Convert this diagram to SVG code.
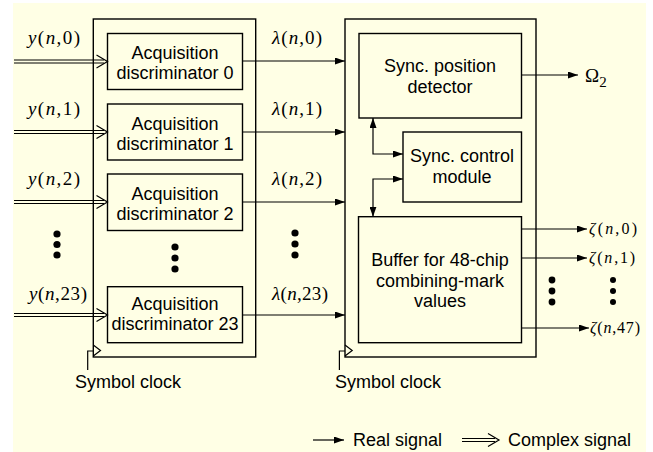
<svg xmlns="http://www.w3.org/2000/svg" xmlns:xlink="http://www.w3.org/1999/xlink" width="653" height="452" viewBox="0 0 653 452">
<style>
.box{fill:none;stroke:#000;stroke-width:1.4}
.ln{fill:none;stroke:#000;stroke-width:1.2}
.dbl{fill:none;stroke:#000;stroke-width:1.1}
.t{font-family:"Liberation Sans",Arial,sans-serif;font-size:18px;fill:#000}
.tc{text-anchor:middle}
.m{font-family:"Liberation Serif","Times New Roman",serif;font-size:19px;fill:#000}
.z{font-size:16px}
.i{font-style:italic}
.dot{fill:#000}
</style>
<defs>
<marker id="ah" viewBox="0 0 10 7" refX="10" refY="3.5" markerWidth="10" markerHeight="7" markerUnits="userSpaceOnUse" orient="auto">
<path d="M0,0 L10,3.5 L0,7 z" fill="#000"/>
</marker>
<marker id="ahs" viewBox="0 0 10 7" refX="10" refY="3.5" markerWidth="10" markerHeight="7" markerUnits="userSpaceOnUse" orient="auto-start-reverse">
<path d="M0,0 L10,3.5 L0,7 z" fill="#000"/>
</marker>
<path id="chev" d="M-11,-6.5 L0,0 L-11,6.5" fill="none" stroke="#000" stroke-width="1.2"/>
</defs>
<rect x="0" y="0" width="653" height="452" fill="#fff"/>
<rect x="13" y="3" width="633" height="449" fill="#FFFFE5"/>

<g id="left-block">
<rect class="box" x="93.3" y="19" width="162.4" height="338"/>
</g>
<g id="disc0">
<rect class="box" x="107.5" y="33.5" width="135" height="56"/>
<text class="t tc" x="175" y="59">Acquisition</text>
<text class="t tc" x="175" y="79">discriminator 0</text>
</g>
<g id="disc1">
<rect class="box" x="107.5" y="104" width="135" height="56"/>
<text class="t tc" x="175" y="130">Acquisition</text>
<text class="t tc" x="175" y="150">discriminator 1</text>
</g>
<g id="disc2">
<rect class="box" x="107.5" y="174" width="135" height="56.5"/>
<text class="t tc" x="175" y="200">Acquisition</text>
<text class="t tc" x="175" y="220">discriminator 2</text>
</g>
<g id="disc23">
<rect class="box" x="107.5" y="286.7" width="135" height="56"/>
<text class="t tc" x="175" y="310">Acquisition</text>
<text class="t tc" x="175" y="330">discriminator 23</text>
</g>

<g id="right-block">
<rect class="box" x="345" y="19" width="191" height="338"/>
</g>
<g id="syncpos">
<rect class="box" x="359" y="33.5" width="162.5" height="84.5"/>
<text class="t tc" x="440" y="72">Sync. position</text>
<text class="t tc" x="440" y="93">detector</text>
</g>
<g id="syncctrl">
<rect class="box" x="403" y="132" width="118.5" height="70"/>
<text class="t tc" x="462" y="162">Sync. control</text>
<text class="t tc" x="462" y="183">module</text>
</g>
<g id="buffer">
<rect class="box" x="358.5" y="216.7" width="163" height="126"/>
<text class="t tc" x="440" y="266">Buffer for 48-chip</text>
<text class="t tc" x="440" y="286.5">combining-mark</text>
<text class="t tc" x="440" y="307">values</text>
</g>

<g id="connectors">
<path class="dbl" d="M14,60 H104 M14,63 H104"/>
<use xlink:href="#chev" x="107.5" y="61.5"/>
<path class="dbl" d="M14,130.5 H104 M14,133.5 H104"/>
<use xlink:href="#chev" x="107.5" y="132"/>
<path class="dbl" d="M14,200.5 H104 M14,203.5 H104"/>
<use xlink:href="#chev" x="107.5" y="202"/>
<path class="dbl" d="M14,313.5 H104 M14,316.5 H104"/>
<use xlink:href="#chev" x="107.5" y="315"/>
<path class="ln" d="M242.5,61 H345" marker-end="url(#ah)"/>
<path class="ln" d="M242.5,132 H345" marker-end="url(#ah)"/>
<path class="ln" d="M242.5,202 H345" marker-end="url(#ah)"/>
<path class="ln" d="M242.5,315 H345" marker-end="url(#ah)"/>
<path class="ln" d="M521.5,75 H578" marker-end="url(#ah)"/>
<path class="ln" d="M373,118 V154 H403" marker-start="url(#ahs)" marker-end="url(#ah)"/>
<path class="ln" d="M373,216.7 V179 H403" marker-start="url(#ahs)" marker-end="url(#ah)"/>
<path class="ln" d="M521.5,229 H587" marker-end="url(#ah)"/>
<path class="ln" d="M521.5,258 H587" marker-end="url(#ah)"/>
<path class="ln" d="M521.5,328 H589" marker-end="url(#ah)"/>
<path class="ln" d="M87.7,370 V351 H93.3"/>
<path class="ln" d="M93.3,345 L100.5,350.5 L93.3,356"/>
<path class="ln" d="M339.4,370 V351 H345"/>
<path class="ln" d="M345,345 L352.2,350.5 L345,356"/>
<path class="ln" d="M313,440 H344" marker-end="url(#ah)"/>
<path class="dbl" d="M462,438.5 H495 M462,441.5 H495"/>
<use xlink:href="#chev" x="499" y="440"/>
</g>

<g id="labels">
<text class="m" x="28" y="44" textLength="52"><tspan class="i">y</tspan>(<tspan class="i">n</tspan>,0)</text>
<text class="m" x="28" y="115" textLength="52"><tspan class="i">y</tspan>(<tspan class="i">n</tspan>,1)</text>
<text class="m" x="28" y="185" textLength="52"><tspan class="i">y</tspan>(<tspan class="i">n</tspan>,2)</text>
<text class="m" x="29" y="300" textLength="58"><tspan class="i">y</tspan>(<tspan class="i">n</tspan>,23)</text>
<text class="m" x="272" y="44" textLength="50"><tspan class="i">λ</tspan>(<tspan class="i">n</tspan>,0)</text>
<text class="m" x="272" y="115" textLength="50"><tspan class="i">λ</tspan>(<tspan class="i">n</tspan>,1)</text>
<text class="m" x="272" y="185" textLength="50"><tspan class="i">λ</tspan>(<tspan class="i">n</tspan>,2)</text>
<text class="m" x="272" y="300" textLength="56"><tspan class="i">λ</tspan>(<tspan class="i">n</tspan>,23)</text>
<text class="m" x="585" y="82">Ω<tspan font-size="15" dy="5">2</tspan></text>
<text class="m z" x="589" y="234" textLength="48"><tspan class="i">ζ</tspan>(<tspan class="i">n</tspan>,0)</text>
<text class="m z" x="589" y="263" textLength="46"><tspan class="i">ζ</tspan>(<tspan class="i">n</tspan>,1)</text>
<text class="m z" x="590" y="333" textLength="50"><tspan class="i">ζ</tspan>(<tspan class="i">n</tspan>,47)</text>
<text class="t" x="75" y="388">Symbol clock</text>
<text class="t" x="335" y="388">Symbol clock</text>
<text class="t" x="353" y="446">Real signal</text>
<text class="t" x="508" y="446">Complex signal</text>
</g>

<g id="ellipses">
<circle class="dot" cx="57" cy="234" r="3.6"/>
<circle class="dot" cx="57" cy="244.5" r="3.6"/>
<circle class="dot" cx="57" cy="255" r="3.6"/>
<circle class="dot" cx="175" cy="247" r="3.6"/>
<circle class="dot" cx="175" cy="258" r="3.6"/>
<circle class="dot" cx="175" cy="269" r="3.6"/>
<circle class="dot" cx="295" cy="233" r="3.6"/>
<circle class="dot" cx="295" cy="244" r="3.6"/>
<circle class="dot" cx="295" cy="255" r="3.6"/>
<circle class="dot" cx="552" cy="280" r="3.4"/>
<circle class="dot" cx="552" cy="291" r="3.4"/>
<circle class="dot" cx="552" cy="302" r="3.4"/>
<circle class="dot" cx="613" cy="280" r="3"/>
<circle class="dot" cx="613" cy="291" r="3"/>
<circle class="dot" cx="613" cy="302" r="3"/>
</g>
</svg>
